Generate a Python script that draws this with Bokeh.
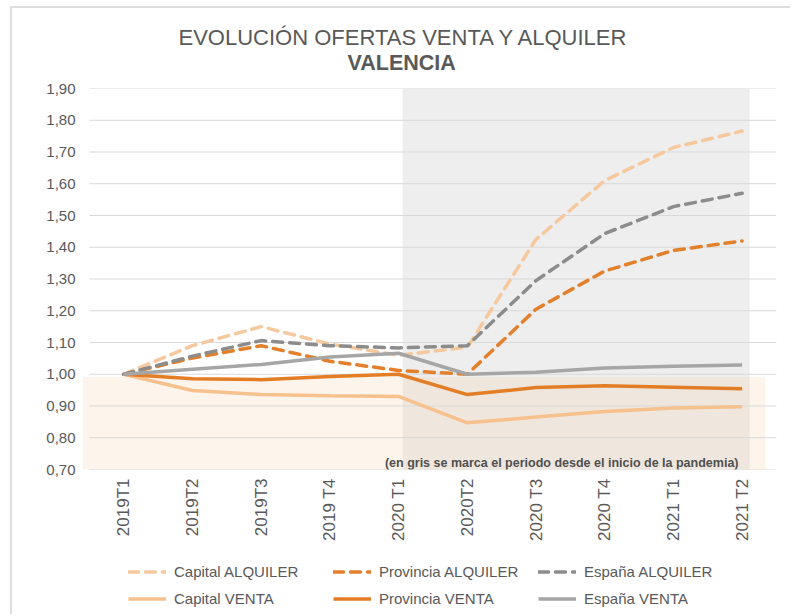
from bokeh.plotting import figure
from bokeh.layouts import column
from bokeh.models import (Range1d, FixedTicker, CustomJSTickFormatter, Label, Legend, LegendItem, Title)
from bokeh.embed import file_html
from bokeh.resources import INLINE
import math

categories = ["2019T1", "2019T2", "2019T3", "2019 T4", "2020 T1", "2020T2",
              "2020 T3", "2020 T4", "2021 T1", "2021 T2"]
capital_alquiler = [1.00, 1.09, 1.15, 1.095, 1.06, 1.085, 1.425, 1.61, 1.714, 1.766]
provincia_alquiler = [1.00, 1.051, 1.09, 1.041, 1.012, 1.00, 1.205, 1.325, 1.39, 1.42]
espana_alquiler = [1.00, 1.057, 1.106, 1.09, 1.083, 1.09, 1.295, 1.443, 1.528, 1.57]
capital_venta = [1.00, 0.949, 0.936, 0.932, 0.930, 0.847, 0.865, 0.883, 0.894, 0.898]
provincia_venta = [1.00, 0.986, 0.983, 0.993, 1.00, 0.936, 0.958, 0.964, 0.959, 0.954]
espana_venta = [1.00, 1.016, 1.031, 1.054, 1.066, 1.00, 1.006, 1.02, 1.025, 1.029]
y_ticks = [0.70, 0.80, 0.90, 1.00, 1.10, 1.20, 1.30, 1.40, 1.50, 1.60, 1.70, 1.80, 1.90]

series_labels = ["Capital ALQUILER", "Provincia ALQUILER", "España ALQUILER",
                 "Capital VENTA", "Provincia VENTA", "España VENTA"]
series_values = [capital_alquiler, provincia_alquiler, espana_alquiler,
                 capital_venta, provincia_venta, espana_venta]
series_colors = ["#F5C89D", "#E2802C", "#8C8C8C", "#F7C18E", "#E47E26", "#A6A6A6"]
series_dash = ["10 7", "10 7", "10 7", "solid", "solid", "solid"]

FONT = "Liberation Sans"
TXT = "#595959"

x = list(range(len(categories)))

p = figure(width=790, height=548, output_backend="svg", toolbar_location=None,
           x_range=Range1d(-0.6, 9.5), y_range=Range1d(0.70, 1.90),
           min_border_left=82, min_border_right=14, min_border_top=88, min_border_bottom=79)
p.outline_line_color = None
p.xgrid.visible = False
p.ygrid.visible = False
p.background_fill_color = "white"
p.border_fill_color = None
p.styles = {
    "background-color": "white",
    "background-image": "linear-gradient(#dedede, #dedede), linear-gradient(#dedede, #dedede)",
    "background-size": "2px 100%, 100% 2px",
    "background-position": "10px 6px, 10px 6px",
    "background-repeat": "no-repeat",
}

# shaded regions
p.quad(left=[4.06], right=[9.11], bottom=[0.70], top=[1.90],
       fill_color="#cfcfcf", fill_alpha=0.35, line_color=None)
p.quad(left=[-0.6], right=[9.34], bottom=[0.695], top=[0.991],
       fill_color="#F4C8A0", fill_alpha=0.2, line_color=None)

# grid lines
p.segment(x0=[-0.5] * len(y_ticks), x1=[9.5] * len(y_ticks), y0=y_ticks, y1=y_ticks,
          line_color="#d9d9d9", line_width=1)

for vals, col, dsh in zip(series_values, series_colors, series_dash):
    p.line(x, vals, line_color=col, line_width=3.5, line_dash=dsh,
           line_cap="round" if dsh != "solid" else "butt")

# axes
p.yaxis.ticker = FixedTicker(ticks=y_ticks)
p.yaxis.formatter = CustomJSTickFormatter(code="return tick.toFixed(2).replace('.', ',');")
p.yaxis.axis_line_color = None
p.yaxis.major_tick_line_color = None
p.yaxis.minor_tick_line_color = None
p.yaxis.major_tick_out = 0
p.yaxis.major_label_standoff = 7
p.yaxis.major_label_text_font = FONT
p.yaxis.major_label_text_font_size = "15px"
p.yaxis.major_label_text_color = TXT

p.xaxis.ticker = FixedTicker(ticks=x)
p.xaxis.major_label_overrides = {i: c for i, c in zip(x, categories)}
p.xaxis.major_label_orientation = math.pi / 2
p.xaxis.axis_line_color = None
p.xaxis.major_tick_line_color = None
p.xaxis.minor_tick_line_color = None
p.xaxis.major_tick_out = 0
p.xaxis.major_label_standoff = 9
p.xaxis.major_label_text_font = FONT
p.xaxis.major_label_text_font_size = "17px"
p.xaxis.major_label_text_color = TXT

# titles (first added sits closest to the plot)
p.title = None
p.add_layout(Title(text="VALENCIA", align="left", offset=265, text_font=FONT,
                   text_font_size="21.5px", text_font_style="bold", text_color=TXT,
                   standoff=28), "above")
p.add_layout(Title(text="EVOLUCIÓN OFERTAS VENTA Y ALQUILER", align="left", offset=96,
                   text_font=FONT, text_font_size="22px", text_font_style="normal",
                   text_color=TXT, standoff=-30), "above")

p.add_layout(Label(x=656, y=7, x_units="screen", y_units="screen",
                   text="(en gris se marca el periodo desde el inicio de la pandemia)",
                   text_align="right", text_baseline="middle", text_font=FONT,
                   text_font_size="12.5px", text_font_style="bold", text_color="#505050"))

# legend figure below (frame aligned with the main plot's frame)
q = figure(width=790, height=66, output_backend="svg", toolbar_location=None,
           x_range=Range1d(-0.6, 9.5), y_range=Range1d(100, 101),
           min_border_left=82, min_border_right=14, min_border_top=0, min_border_bottom=0,
           x_axis_type=None, y_axis_type=None)
q.outline_line_color = None
q.xgrid.visible = False
q.ygrid.visible = False
q.background_fill_color = None
q.border_fill_color = None
q.styles = {
    "background-color": "white",
    "background-image": "linear-gradient(#dedede, #dedede)",
    "background-size": "2px 100%",
    "background-position": "10px 0px",
    "background-repeat": "no-repeat",
}
items = []
for lab, vals, col, dsh in zip(series_labels, series_values, series_colors, series_dash):
    r = q.line(x, vals, line_color=col, line_width=3.5, line_dash=dsh,
               line_cap="round" if dsh != "solid" else "butt")
    items.append(LegendItem(label=lab, renderers=[r]))
lg = Legend(items=items, location=(46, 2), orientation="horizontal", ncols=3,
            padding=0, margin=0, spacing=0, glyph_width=38, glyph_height=27,
            label_height=27, label_width=159, label_standoff=8, border_line_color=None,
            background_fill_alpha=0, label_text_font=FONT,
            label_text_font_size="15px", label_text_color=TXT)
q.add_layout(lg, "center")

layout = column(p, q, spacing=0)
open("out.html", "w").write(file_html(layout, INLINE))
